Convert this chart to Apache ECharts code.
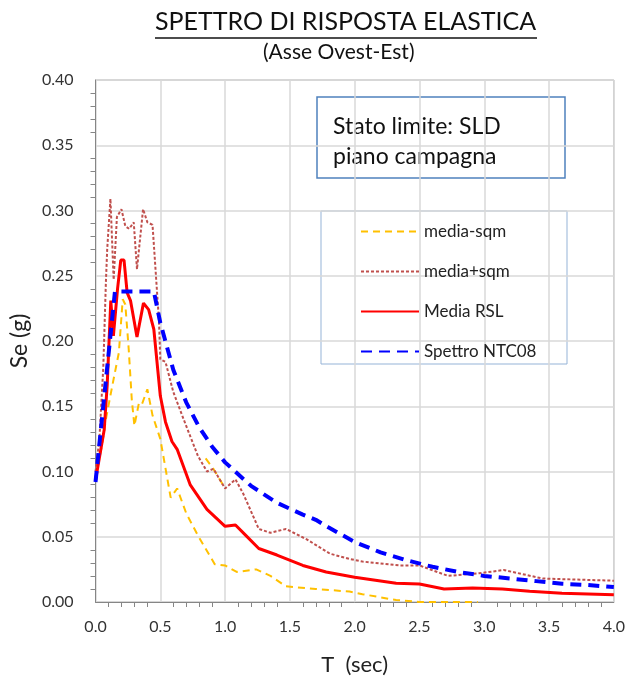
<!DOCTYPE html>
<html>
<head>
<meta charset="utf-8">
<script src="https://cdn.jsdelivr.net/npm/echarts@6/dist/echarts.min.js"></script>
<style>
  html, body { margin: 0; padding: 0; background: #fff; }
  #chart { width: 628px; height: 681px; }
</style>
</head>
<body>
<div id="chart"></div>
<script>
// periodo T (sec), Se (g)
const mediaMenoSqm = [
  [0, 0.095], [0.05, 0.12], [0.08, 0.14], [0.105, 0.153], [0.13, 0.166], [0.18, 0.191],
  [0.21, 0.232], [0.23, 0.228], [0.256, 0.194], [0.28, 0.155], [0.30, 0.135], [0.336, 0.153],
  [0.36, 0.152], [0.40, 0.163], [0.44, 0.143], [0.50, 0.125], [0.58, 0.080], [0.63, 0.087],
  [0.70, 0.068], [0.79, 0.051], [0.92, 0.029], [1.0, 0.028], [1.09, 0.023], [1.24, 0.025],
  [1.35, 0.020], [1.47, 0.012], [1.70, 0.010], [1.96, 0.008], [2.06, 0.006], [2.32, 0.0015],
  [2.5, 0.0], [2.95, 0.0]
];
const mediaMenoSqmTratto = [[0.85, 0.110], [0.91, 0.102], [1.0, 0.087]];

const mediaPiuSqm = [
  [0, 0.100], [0.03, 0.125], [0.06, 0.180], [0.08, 0.245], [0.09, 0.270], [0.115, 0.309],
  [0.14, 0.247], [0.165, 0.295], [0.20, 0.301], [0.23, 0.288], [0.26, 0.286], [0.295, 0.291],
  [0.32, 0.255], [0.367, 0.301], [0.40, 0.291], [0.44, 0.289], [0.49, 0.215], [0.50, 0.186],
  [0.54, 0.184], [0.60, 0.161], [0.68, 0.140], [0.79, 0.112], [0.86, 0.100], [0.91, 0.102],
  [1.0, 0.087], [1.08, 0.094], [1.14, 0.083], [1.26, 0.056], [1.35, 0.053], [1.47, 0.056],
  [1.63, 0.048], [1.81, 0.037], [1.96, 0.033], [2.06, 0.031], [2.35, 0.028], [2.5, 0.028],
  [2.72, 0.020], [2.96, 0.022], [3.15, 0.0245], [3.45, 0.018], [4.0, 0.0163]
];

const mediaRSL = [
  [0, 0.093], [0.015, 0.102], [0.067, 0.132], [0.09, 0.166], [0.118, 0.231], [0.138, 0.204],
  [0.17, 0.240], [0.195, 0.262], [0.22, 0.262], [0.244, 0.237], [0.27, 0.231], [0.32, 0.203],
  [0.37, 0.229], [0.41, 0.224], [0.45, 0.209], [0.50, 0.158], [0.54, 0.138], [0.59, 0.123],
  [0.63, 0.117], [0.73, 0.090], [0.86, 0.071], [1.0, 0.058], [1.08, 0.059], [1.15, 0.052],
  [1.26, 0.041], [1.40, 0.036], [1.60, 0.028], [1.78, 0.023], [2.0, 0.019], [2.32, 0.0143],
  [2.5, 0.0138], [2.69, 0.010], [2.91, 0.0107], [3.14, 0.010], [3.35, 0.0082], [3.6, 0.0067],
  [4.0, 0.0056]
];

const spettroNTC08 = [
  [0, 0.092], [0.15, 0.238], [0.45, 0.238], [0.5, 0.214], [0.6, 0.178], [0.7, 0.153],
  [0.8, 0.134], [0.9, 0.119], [1.0, 0.107], [1.2, 0.089], [1.4, 0.076], [1.6, 0.067],
  [1.7, 0.063], [1.8, 0.057], [2.0, 0.046], [2.2, 0.038], [2.4, 0.032], [2.6, 0.027],
  [2.8, 0.023], [3.0, 0.020], [3.2, 0.018], [3.4, 0.016], [3.6, 0.014], [3.8, 0.013],
  [4.0, 0.0115]
];

const legendNames = ['media-sqm', 'media+sqm', 'Media RSL', 'Spettro NTC08'];

const font = 'Lato, "Open Sans", sans-serif';

const myChart = echarts.init(document.getElementById('chart'));

const option = {
  animation: false,
  textStyle: { fontFamily: font },
  grid: {
    left: 95,
    right: 13,
    top: 80,
    bottom: 78,
    show: true,
    borderColor: '#A6A6A6',
    borderWidth: 1
  },
  xAxis: {
    type: 'value',
    min: 0,
    max: 4,
    interval: 0.5,
    name: 'T  (sec)',
    nameLocation: 'middle',
    nameGap: 52,
    nameTextStyle: { fontSize: 22, color: '#222', fontFamily: font },
    axisLine: { lineStyle: { color: '#868686' } },
    axisTick: { show: false },
    minorTick: { show: true, splitNumber: 5, length: 5, lineStyle: { color: '#868686' } },
    axisLabel: {
      fontSize: 16, color: '#333', margin: 17,
      formatter: v => v.toFixed(1)
    },
    splitLine: { lineStyle: { color: '#D9D9D9', width: 1.5 } }
  },
  yAxis: {
    type: 'value',
    min: 0,
    max: 0.4,
    interval: 0.05,
    name: 'Se (g)',
    nameLocation: 'middle',
    nameGap: 48,
    nameTextStyle: { fontSize: 23, color: '#222', fontFamily: font },
    axisLine: { show: true, lineStyle: { color: '#868686' } },
    axisTick: { show: false },
    minorTick: { show: true, splitNumber: 5, length: 5, lineStyle: { color: '#868686' } },
    axisLabel: {
      fontSize: 16, color: '#333', margin: 22,
      formatter: v => v.toFixed(2)
    },
    splitLine: { lineStyle: { color: '#D9D9D9', width: 1.5 } }
  },
  legend: {
    data: legendNames,
    orient: 'vertical',
    left: 360,
    top: 223,
    padding: 0,
    itemWidth: 58,
    itemHeight: 16,
    itemGap: 23,
    itemStyle: { opacity: 0 },
    textStyle: { fontSize: 17, color: '#222', fontFamily: font }
  },
  graphic: [
    {
      type: 'text', left: 155, top: 9,
      style: { text: 'SPETTRO DI RISPOSTA ELASTICA', font: '25px ' + font, fill: '#111' }
    },
    {
      type: 'line',
      shape: { x1: 155, y1: 38, x2: 537, y2: 38 },
      style: { stroke: '#111', lineWidth: 1.4 }
    },
    {
      type: 'text', left: 263, top: 42,
      style: { text: '(Asse Ovest-Est)', font: '21px ' + font, fill: '#111' }
    },
    {
      type: 'rect',
      shape: { x: 317, y: 97, width: 248, height: 81 },
      style: { fill: '#fff', stroke: '#4F81BD', lineWidth: 1.5 }
    },
    {
      type: 'text', left: 333, top: 112,
      style: { text: 'Stato limite: SLD\npiano campagna', font: '23px ' + font, fill: '#111', lineHeight: 30 }
    },
    {
      type: 'rect', z: -1,
      shape: { x: 321, y: 211, width: 246, height: 153 },
      style: { fill: '#fff', stroke: '#95B3D7', lineWidth: 1 }
    }
  ],
  series: [
    {
      name: 'media-sqm', type: 'line', data: mediaMenoSqm,
      symbol: 'none', z: 2,
      lineStyle: { color: '#FFC000', width: 2, type: [7, 5] },
      itemStyle: { color: '#FFC000' }
    },
    {
      name: 'media-sqm', type: 'line', data: mediaMenoSqmTratto,
      symbol: 'none', z: 2,
      lineStyle: { color: '#FFC000', width: 2, type: [7, 5] },
      itemStyle: { color: '#FFC000' }
    },
    {
      name: 'media+sqm', type: 'line', data: mediaPiuSqm,
      symbol: 'none', z: 3,
      lineStyle: { color: '#C0504D', width: 2, type: [3, 2] },
      itemStyle: { color: '#C0504D' }
    },
    {
      name: 'Media RSL', type: 'line', data: mediaRSL,
      symbol: 'none', z: 4,
      lineStyle: { color: '#FF0000', width: 3 },
      itemStyle: { color: '#FF0000' }
    },
    {
      name: 'Spettro NTC08', type: 'line', data: spettroNTC08,
      symbol: 'none', z: 5,
      lineStyle: { color: '#0000FF', width: 4, type: [11, 7] },
      itemStyle: { color: '#0000FF' }
    }
  ]
};

myChart.setOption(option);
</script>
</body>
</html>
